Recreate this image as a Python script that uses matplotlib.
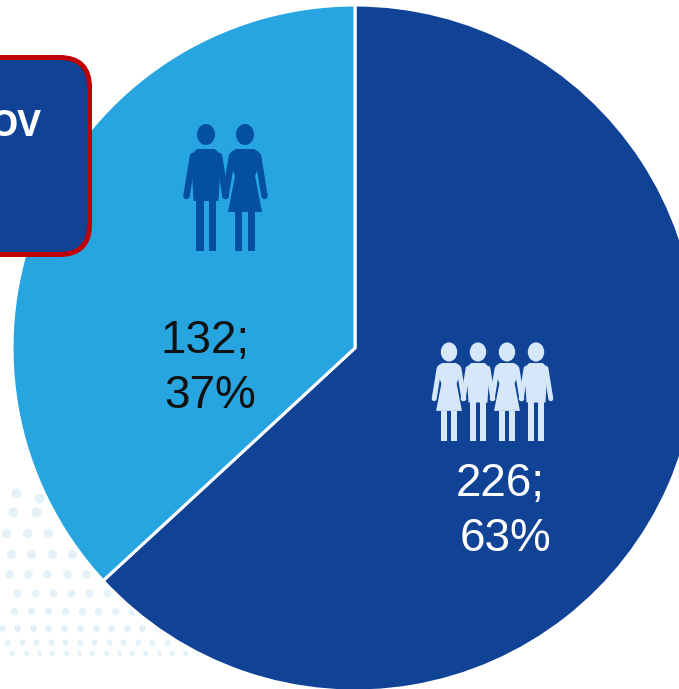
#!/usr/bin/env python3
import matplotlib
matplotlib.use("Agg")
import matplotlib.pyplot as plt
from matplotlib.patches import Circle, Ellipse, FancyBboxPatch, Polygon, Rectangle

plt.rcParams['font.family'] = ['Liberation Sans', 'DejaVu Sans']

W, H = 679, 689

values = [226, 132]
percents = [63, 37]
colors = ["#104395", "#27A5E1"]
label_colors = ["white", "#111111"]
box_text = "OV"

# background dots (x per row, row y, dot size)
dot_rows = [
    ([16], 493, 10), ([39], 498, 10),
    ([13, 36], 512, 10),
    ([6, 27, 48], 533, 9.5),
    ([11, 31, 52, 72], 554, 9),
    ([9, 28, 47, 67, 86], 574, 8.5),
    ([17, 35, 53, 71, 89, 107], 593, 8),
    ([14, 31, 48, 65, 82, 98, 115, 132], 611, 7.5),
    ([2, 17, 33, 48, 64, 80, 96, 111, 127, 142, 158], 628, 7),
    ([7, 22, 36, 51, 65, 80, 94, 109, 123, 138, 152, 167, 181], 642, 6),
    ([12, 26, 39, 52, 66, 79, 92, 106, 119, 132, 145, 159, 172, 185, 198, 211, 224, 237], 653, 5),
]


def py(y):
    return H - y


def person(ax, cx, top, scale, female, color, head=1.0):
    # one pictogram, units are px of the couple icon
    s = scale
    def P(dx, dy):
        return (cx + dx * s, py(top + dy * s))
    ax.add_patch(Ellipse(P(0, 10.5), 18 * s * head, 21 * s * head, color=color, lw=0, zorder=5))
    lw = 6.5 * s * 0.72
    for side in (-1, 1):
        ax.plot(*zip(P(side * 13, 32), P(side * 19.5, 72)), color=color, lw=lw,
                solid_capstyle="round", zorder=5)
    if female:
        body = [(-14, 28), (-9, 25), (9, 25), (14, 28), (16, 36), (10, 52),
                (17, 88), (-17, 88), (-10, 52), (-16, 36)]
        legs = [(-10, 88, 7), (3, 88, 7)]
    else:
        body = [(-14, 30), (-9, 25), (9, 25), (14, 30), (14, 50), (12.5, 77), (-12.5, 77), (-14, 50)]
        legs = [(-10, 70, 7.5), (2.5, 70, 7.5)]
    ax.add_patch(Polygon([P(*p) for p in body], color=color, lw=0, zorder=5))
    for dx, dy, w in legs:
        x0, y0 = P(dx, 127)
        ax.add_patch(Rectangle((x0, y0), w * s, (127 - dy) * s, color=color, lw=0, zorder=5))


fig = plt.figure(figsize=(W / 100, H / 100), dpi=100)
ax = fig.add_axes([0, 0, 1, 1])

for xs, y, d in dot_rows:
    ax.scatter(xs, [py(y)] * len(xs), s=(d * 0.72) ** 2, color="#E3F1F9", lw=0, zorder=1)

ax.pie(values, colors=colors, startangle=90, counterclock=False, center=(355, py(348)),
       radius=343, wedgeprops=dict(edgecolor="white", linewidth=2.2), frame=False)
ax.set_xlim(0, W)
ax.set_ylim(0, H)
ax.set_aspect("equal")
ax.axis("off")

# labels
ax.text(205, py(341), f"{values[1]};", fontsize=33, color=label_colors[1], ha="center", va="center", zorder=6)
ax.text(210, py(396), f"{percents[1]}%", fontsize=33, color=label_colors[1], ha="center", va="center", zorder=6)
ax.text(500, py(484), f"{values[0]};", fontsize=33, color=label_colors[0], ha="center", va="center", zorder=6)
ax.text(506, py(539), f"{percents[0]}%", fontsize=33, color=label_colors[0], ha="center", va="center", zorder=6)

# couple icon
person(ax, 206, 124, 1.0, False, "#04509E")
person(ax, 245, 124, 1.0, True, "#04509E")

# family icon
for i, x in enumerate([449, 478, 507, 536]):
    person(ax, x, 344, 0.76, i % 2 == 0, "#D6E7F9", head=1.2)

# callout box running off the left edge
box = FancyBboxPatch((-60, py(254.5)), 149.5, 197, boxstyle="round,pad=0,rounding_size=30",
                     facecolor="#104395", edgecolor="#C00000", linewidth=3.6, zorder=7)
ax.add_patch(box)
ax.text(42, py(127), box_text, fontsize=26, fontweight="bold", family=["Open Sans", "DejaVu Sans"],
        color="white", ha="right", va="center", zorder=8)

fig.savefig("out.png", dpi=100)
